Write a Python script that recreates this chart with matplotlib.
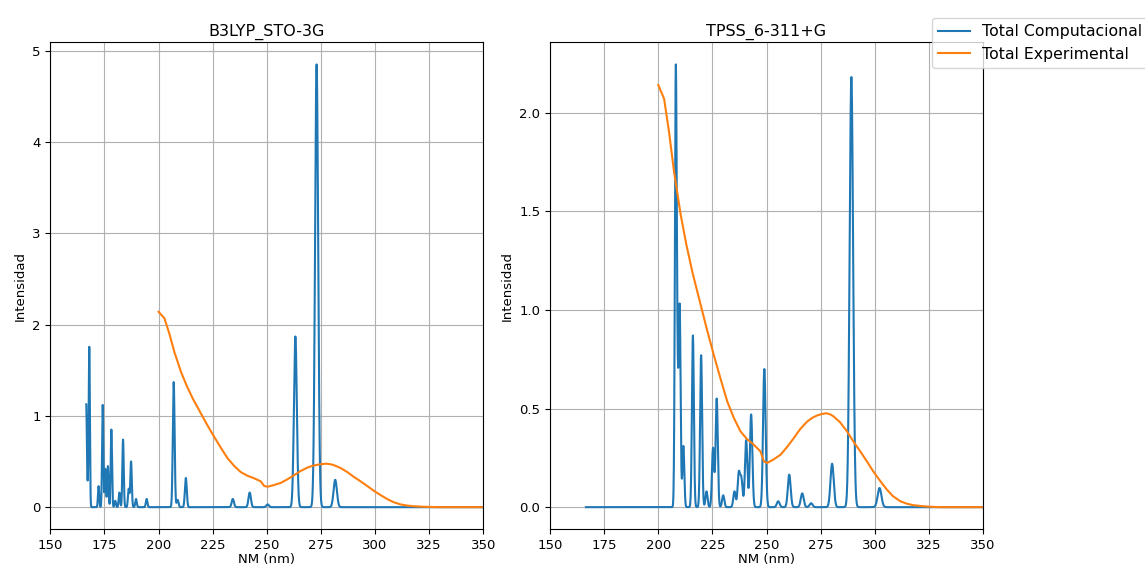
import numpy as np
import matplotlib
matplotlib.use('Agg')
import matplotlib.pyplot as plt

# computed transitions (nm, intensity)
b3lyp_nm = [166.6, 167.3, 168.0, 172.3, 174.2, 175.4, 176.6, 178.2, 180.0, 181.9,
            183.6, 186.2, 187.3, 189.6, 194.5, 207.0, 208.8, 212.6, 234.3, 242.1,
            250.4, 263.2, 273.0, 281.6]
b3lyp_int = [1.12, 0.2, 1.75, 0.23, 1.12, 0.42, 0.45, 0.85, 0.07, 0.16,
             0.74, 0.2, 0.5, 0.09, 0.09, 1.37, 0.08, 0.32, 0.09, 0.16,
             0.03, 1.87, 4.85, 0.30]

tpss_nm = [208.1, 208.9, 209.9, 211.6, 216.0, 219.8, 222.3, 225.3, 227.0, 230.0,
           235.2, 237.2, 238.4, 240.6, 242.9, 249.0, 255.4, 260.5, 266.5, 270.6,
           280.3, 289.2, 302.2]
tpss_int = [2.16, 0.5, 1.0, 0.31, 0.87, 0.77, 0.08, 0.3, 0.55, 0.06,
            0.08, 0.17, 0.14, 0.34, 0.47, 0.70, 0.03, 0.165, 0.07, 0.02,
            0.22, 2.18, 0.097]

# experimental spectrum
exp_nm = [200.0, 202.7, 205.0, 207.3, 210.4, 213.0, 215.8, 219.6, 222.5, 225.7,
          228.8, 231.9, 235.0, 238.0, 241.0, 244.1, 247.2, 248.8, 250.3, 253.0,
          256.5, 259.5, 262.6, 265.5, 268.8, 271.0, 273.4, 275.5, 277.6, 279.5,
          281.0, 284.0, 287.2, 290.0, 293.3, 296.5, 299.4, 302.5, 305.6, 308.5,
          311.8, 315.0, 317.9, 322.0, 326.0, 330.0, 335.0, 340.0, 345.0, 350.0]
exp_int = [2.14, 2.07, 1.90, 1.70, 1.48, 1.33, 1.19, 1.025, 0.90, 0.77,
           0.65, 0.535, 0.45, 0.384, 0.345, 0.317, 0.283, 0.232, 0.224, 0.24,
           0.266, 0.305, 0.35, 0.395, 0.434, 0.452, 0.465, 0.472, 0.476, 0.47,
           0.46, 0.43, 0.384, 0.335, 0.283, 0.23, 0.18, 0.133, 0.089, 0.055,
           0.03, 0.017, 0.01, 0.005, 0.002, 0.0, 0.0, 0.0, 0.0, 0.0]

sigma_ev = 0.0119
grid = np.arange(166.6, 350.0, 0.05)


def spectrum(pos, heights):
    e = 1239.84 / grid
    y = np.zeros_like(grid)
    for p, h in zip(pos, heights):
        y += h * np.exp(-((e - 1239.84 / p) ** 2) / (2 * sigma_ev ** 2))
    return y


fig = plt.figure(figsize=(11.45, 5.7), dpi=100)
W, H = 1145, 570
ax1 = fig.add_axes([50.3 / W, 1 - 529.3 / H, 433 / W, 487 / H])
ax2 = fig.add_axes([550 / W, 1 - 529.3 / H, 433 / W, 487 / H])

for ax, title, pos, heights in [(ax1, 'B3LYP_STO-3G', b3lyp_nm, b3lyp_int),
                                (ax2, 'TPSS_6-311+G', tpss_nm, tpss_int)]:
    l1, = ax.plot(grid, spectrum(pos, heights), color='#1f77b4', lw=1.5, label='Total Computacional')
    l2, = ax.plot(exp_nm, exp_int, color='#ff7f0e', lw=1.5, label='Total Experimental')
    ax.set_xlim(150, 350)
    ax.set_title(title, fontsize=11.5, pad=5)
    ax.set_xlabel('NM (nm)', fontsize=9.5, labelpad=1)
    ax.set_ylabel('Intensidad', fontsize=9.5)
    ax.tick_params(labelsize=9.5)
    ax.grid(True)

fig.legend(handles=[l1, l2], loc='upper left', bbox_to_anchor=(924 / W, 1 - 10 / H), fontsize=11.3)

fig.savefig('out.png', dpi=100)
